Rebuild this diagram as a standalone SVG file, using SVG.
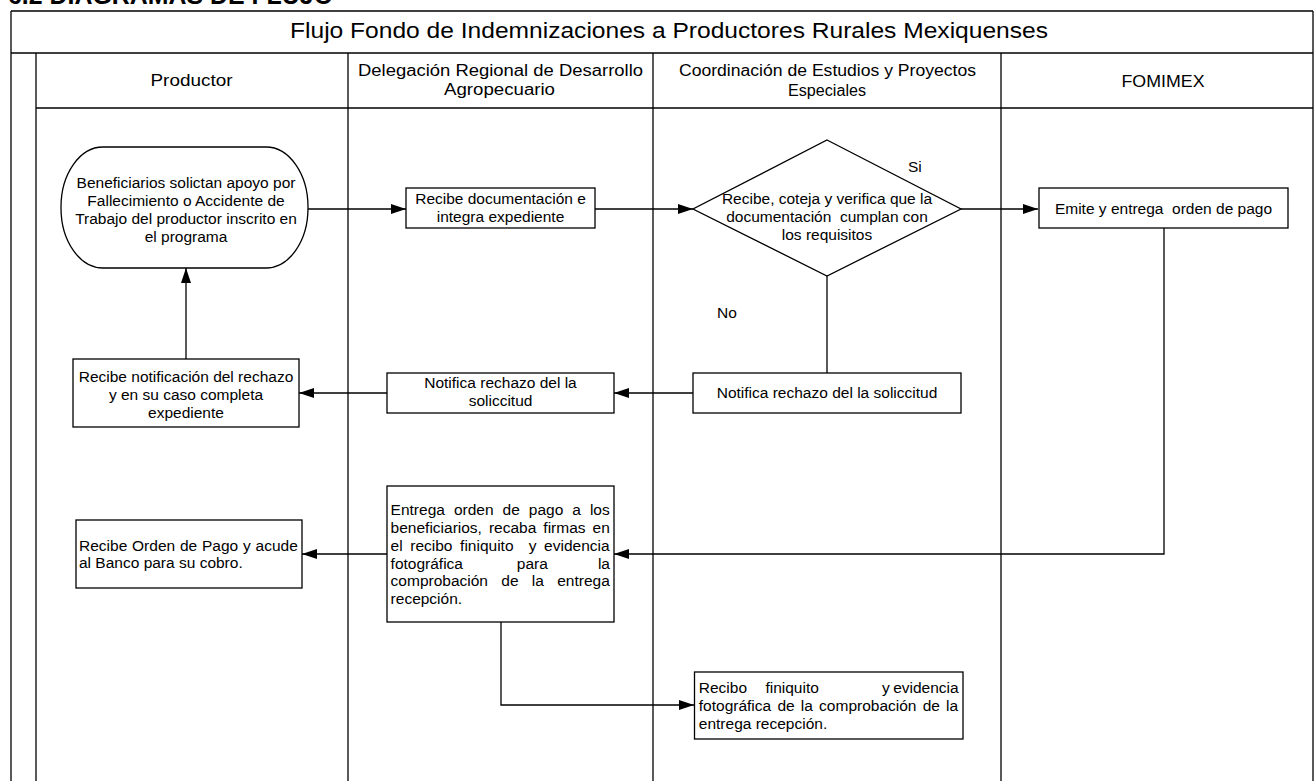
<svg xmlns="http://www.w3.org/2000/svg" width="1315" height="781" viewBox="0 0 1315 781">
<style>
.ln{stroke:#000;stroke-width:1.3;fill:none}
.bx{stroke:#000;stroke-width:1.3;fill:#fff}
.cn{stroke:#000;stroke-width:1.3;fill:none}
.t{font-family:"Liberation Sans",Arial,sans-serif;font-size:15.5px;fill:#000}
.h{font-family:"Liberation Sans",Arial,sans-serif;font-size:16px;fill:#000}
.c{text-anchor:middle}
.e{text-anchor:end}
</style>
<defs>
<marker id="ah" markerUnits="userSpaceOnUse" markerWidth="15" markerHeight="10" refX="15" refY="5" orient="auto">
<path d="M0,0 L15,5 L0,10 z" fill="#000"/>
</marker>
</defs>
<rect x="0" y="0" width="1315" height="781" fill="#fff"/>
<text x="8" y="4" font-family="Liberation Sans,Arial,sans-serif" font-weight="bold" font-size="25" textLength="325" lengthAdjust="spacingAndGlyphs">6.2 DIAGRAMAS DE FLUJO</text>

<g id="pool">
<line class="ln" x1="11" y1="11" x2="1313" y2="11"/>
<line class="ln" x1="11" y1="11" x2="11" y2="781"/>
<line class="ln" x1="1313" y1="11" x2="1313" y2="781"/>
<line class="ln" x1="11" y1="53" x2="1313" y2="53"/>
<line class="ln" x1="36" y1="53" x2="36" y2="781"/>
<line class="ln" x1="36" y1="108" x2="1313" y2="108"/>
<line class="ln" x1="348" y1="53" x2="348" y2="781"/>
<line class="ln" x1="653" y1="53" x2="653" y2="781"/>
<line class="ln" x1="1001" y1="53" x2="1001" y2="781"/>
<text class="t c" x="669" y="38" font-size="22" style="font-size:22px" textLength="758" lengthAdjust="spacingAndGlyphs">Flujo Fondo de Indemnizaciones a Productores Rurales Mexiquenses</text>
</g>

<g id="lane-productor"><text class="h c" x="191.5" y="86" textLength="82" lengthAdjust="spacingAndGlyphs">Productor</text></g>
<g id="lane-delegacion">
<text class="h c" x="500.5" y="76" textLength="285" lengthAdjust="spacingAndGlyphs">Delegación Regional de Desarrollo</text>
<text class="h c" x="499.5" y="95" textLength="111" lengthAdjust="spacingAndGlyphs">Agropecuario</text>
</g>
<g id="lane-coordinacion">
<text class="h c" x="827.5" y="76" textLength="297" lengthAdjust="spacingAndGlyphs">Coordinación de Estudios y Proyectos</text>
<text class="h c" x="827" y="96" textLength="78" lengthAdjust="spacingAndGlyphs">Especiales</text>
</g>
<g id="lane-fomimex"><text class="h c" x="1163" y="87" textLength="83" lengthAdjust="spacingAndGlyphs">FOMIMEX</text></g>

<g id="connectors">
<line class="cn" x1="308" y1="209" x2="406" y2="209" marker-end="url(#ah)"/>
<line class="cn" x1="595" y1="209" x2="693" y2="209" marker-end="url(#ah)"/>
<line class="cn" x1="961" y1="209" x2="1038" y2="209" marker-end="url(#ah)"/>
<line class="cn" x1="827" y1="276" x2="827" y2="373"/>
<line class="cn" x1="693" y1="393" x2="614" y2="393" marker-end="url(#ah)"/>
<line class="cn" x1="387" y1="393" x2="299" y2="393" marker-end="url(#ah)"/>
<line class="cn" x1="186" y1="359" x2="186" y2="268" marker-end="url(#ah)"/>
<polyline class="cn" points="1164,228 1164,554 614,554" marker-end="url(#ah)"/>
<line class="cn" x1="387" y1="554" x2="302" y2="554" marker-end="url(#ah)"/>
<polyline class="cn" points="501,622 501,705 694,705" marker-end="url(#ah)"/>
<text class="t" x="908" y="172">Si</text>
<text class="t" x="717" y="318">No</text>
</g>

<g id="n-inicio">
<rect class="bx" x="61" y="147" width="247" height="121" rx="42" ry="60"/>
<text class="t c" x="186" y="188">Beneficiarios solictan apoyo por</text>
<text class="t c" x="186" y="206">Fallecimiento o Accidente de</text>
<text class="t c" x="186" y="224">Trabajo del productor inscrito en</text>
<text class="t c" x="186" y="242">el programa</text>
</g>

<g id="n-recibe-doc">
<rect class="bx" x="406" y="188" width="189" height="40"/>
<text class="t c" x="500.5" y="204">Recibe documentación e</text>
<text class="t c" x="500.5" y="222">integra expediente</text>
</g>

<g id="n-decision">
<polygon class="bx" points="827,140 961,209 827,276 693,209"/>
<text class="t c" x="827" y="204">Recibe, coteja y verifica que la</text>
<text class="t c" x="827" y="222" xml:space="preserve">documentación  cumplan con</text>
<text class="t c" x="827" y="240">los requisitos</text>
</g>

<g id="n-emite">
<rect class="bx" x="1039" y="188" width="249" height="40"/>
<text class="t c" x="1163.5" y="214" xml:space="preserve">Emite y entrega  orden de pago</text>
</g>

<g id="n-notifica-coord">
<rect class="bx" x="693" y="373" width="268" height="40"/>
<text class="t c" x="827" y="398">Notifica rechazo del la soliccitud</text>
</g>

<g id="n-notifica-deleg">
<rect class="bx" x="387" y="373" width="227" height="40"/>
<text class="t c" x="500.5" y="388">Notifica rechazo del la</text>
<text class="t c" x="500.5" y="406">soliccitud</text>
</g>

<g id="n-recibe-notif">
<rect class="bx" x="73" y="359" width="226" height="68"/>
<text class="t c" x="186" y="382">Recibe notificación del rechazo</text>
<text class="t c" x="186" y="400">y en su caso completa</text>
<text class="t c" x="186" y="418">expediente</text>
</g>

<g id="n-entrega">
<rect class="bx" x="387" y="486" width="227" height="136"/>
<text class="t" x="390.6" y="515" word-spacing="4.7">Entrega orden de pago a los</text>
<text class="t" x="390.6" y="533" word-spacing="2.7">beneficiarios, recaba firmas en</text>
<text class="t" x="390.6" y="551" word-spacing="3.3" xml:space="preserve">el recibo finiquito  y evidencia</text>
<text class="t" x="390.6" y="568.5">fotográfica</text>
<text class="t" x="516.8" y="568.5">para</text>
<text class="t e" x="610" y="568.5">la</text>
<text class="t" x="390.6" y="586" word-spacing="9">comprobación de la entrega</text>
<text class="t" x="390.6" y="604">recepción.</text>
</g>

<g id="n-recibe-orden">
<rect class="bx" x="76" y="520" width="226" height="68"/>
<text class="t" x="79" y="551" word-spacing="0.5">Recibe Orden de Pago y acude</text>
<text class="t" x="79" y="568">al Banco para su cobro.</text>
</g>

<g id="n-recibo">
<rect class="bx" x="694.5" y="672" width="268.5" height="67"/>
<text class="t" x="698.8" y="693">Recibo</text>
<text class="t" x="765.4" y="693">finiquito</text>
<text class="t" x="882" y="693">y</text>
<text class="t e" x="958.7" y="693">evidencia</text>
<text class="t" x="698.8" y="711" word-spacing="1.9">fotográfica de la comprobación de la</text>
<text class="t" x="698.8" y="729">entrega recepción.</text>
</g>
</svg>
